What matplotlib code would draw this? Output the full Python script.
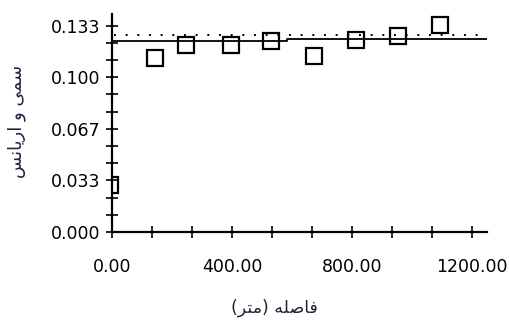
import numpy as np
import matplotlib
matplotlib.use("Agg")
import matplotlib.pyplot as plt

# experimental semivariogram (lag distance in m, semivariance)
lag_dist = [-8, 143, 247, 397, 530, 673, 813, 953, 1093]
semivar = [0.0304, 0.1124, 0.1208, 0.1208, 0.1231, 0.1137, 0.1243, 0.1269, 0.1337]

# fitted model
model_dist = [0, 583, 583, 1250]
model_gamma = [0.1235, 0.1235, 0.1245, 0.1245]

# sample variance (sill)
sill = 0.1273

y_ticks = [i * 0.1333 / 12 for i in range(13)]
y_labels = ["0.000", "0.033", "0.067", "0.100", "0.133"]
x_ticks = [i * 400 / 3 for i in range(10)]
x_labels = ["0.00", "400.00", "800.00", "1200.00"]

# Persian labels in presentation forms, visual order
ylab = "\uFEB2\uFEE7\uFE8E\uFEF3\uFEAD\uFE8D \uFEED \uFEF0\uFEE4\uFEB3"
xlab = "(\uFEAE\uFE98\uFEE3) \uFEEA\uFEE0\uFEBB\uFE8E\uFED3"

fig = plt.figure(figsize=(5.1, 3.31), dpi=100)
ax = fig.add_axes([112 / 510, 1 - 232 / 331, 375 / 510, 218 / 331])

ax.plot(model_dist, model_gamma, color="black", lw=1.3, zorder=2)
ax.plot([8, 1250], [sill, sill], color="black", lw=1.4,
        linestyle=(0, (1, 5)), zorder=2)
ax.plot(lag_dist, semivar, linestyle="none", marker="s", ms=11.5,
        mfc="none", mec="black", mew=1.6, zorder=3)

ax.set_xlim(0, 1250)
ax.set_ylim(0, 0.1408)

ax.set_yticks(y_ticks)
ax.set_yticklabels([y_labels[i // 3] if i % 3 == 0 else "" for i in range(13)])
ax.set_xticks(x_ticks)
ax.set_xticklabels([x_labels[i // 3] if i % 3 == 0 else "" for i in range(10)])

for s in ["top", "right"]:
    ax.spines[s].set_visible(False)
for s in ["left", "bottom"]:
    ax.spines[s].set_linewidth(1.6)

ax.tick_params(axis="y", direction="inout", length=9, width=1.2,
               labelsize=12.5, pad=4)
ax.tick_params(axis="x", direction="inout", length=9, width=1.2,
               labelsize=12.5, pad=14)

fig.text(17 / 510, 1 - 121 / 331, ylab, rotation=90, ha="center",
         va="center", fontsize=13, color="#222244", family="DejaVu Sans")
fig.text(274 / 510, 1 - 308 / 331, xlab, ha="center", va="center",
         fontsize=12.5, color="#222233", family="DejaVu Sans")

fig.savefig("out.png", dpi=100)
